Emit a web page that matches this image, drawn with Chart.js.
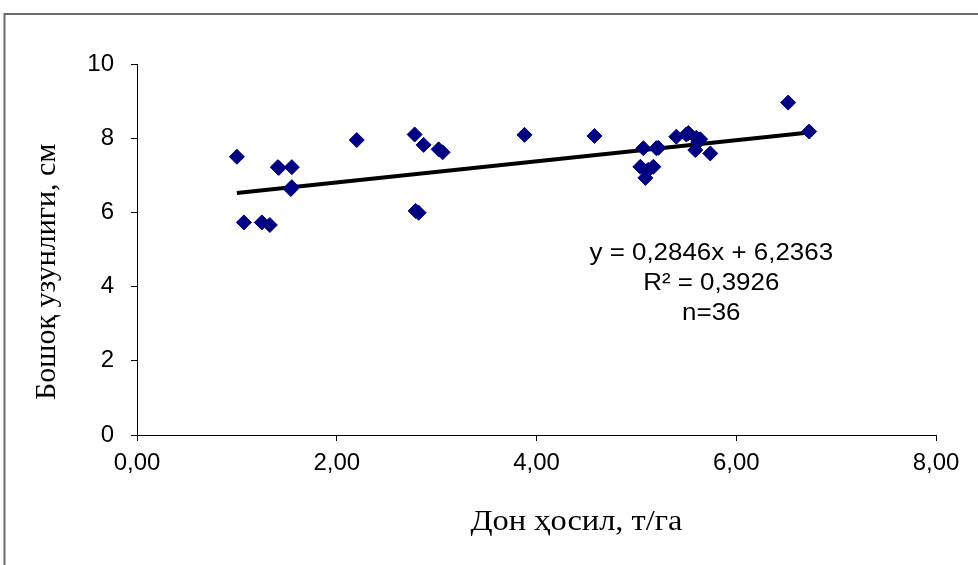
<!DOCTYPE html>
<html>
<head>
<meta charset="utf-8">
<script src="https://cdn.jsdelivr.net/npm/chart.js@4.4.1/dist/chart.umd.min.js"></script>
<style>
  html, body { margin: 0; padding: 0; background: #fff; }
  #wrap { position: relative; width: 978px; height: 565px; }
</style>
</head>
<body>
<div id="wrap"><canvas id="chart" width="978" height="565"></canvas></div>
<script>
// grain yield, t/ha
const yieldX = [1.00, 1.07, 1.25, 1.33, 1.41, 1.42, 1.55, 1.54, 1.55, 2.20,
  2.78, 2.79, 2.82, 2.87, 3.02, 3.06, 3.88, 4.58, 5.07, 5.20,
  5.04, 5.17, 5.11, 5.12, 5.09, 5.40, 5.52, 5.50, 5.60, 5.64,
  5.62, 5.59, 5.74, 6.52, 6.73, 5.22];
// spike length, cm
const spikeY = [7.50, 5.73, 5.73, 5.66, 7.22, 7.20, 7.22, 6.63, 6.68, 7.95,
  8.10, 6.04, 5.99, 7.82, 7.70, 7.62, 8.09, 8.06, 7.73, 7.73,
  7.23, 7.23, 7.12, 7.15, 6.93, 8.04, 8.14, 8.10, 8.01, 7.97,
  7.90, 7.68, 7.59, 8.96, 8.18, 7.74];

const slope = 0.2846;
const intercept = 6.2363;
const equationLines = ['y = 0,2846x + 6,2363', 'R² = 0,3926', 'n=36'];
const xTicks = [0, 2, 4, 6, 8];
const yTicks = [0, 2, 4, 6, 8, 10];
const xTitle = 'Дон ҳосил, т/га';
const yTitle = 'Бошоқ узунлиги, см';

const points = yieldX.map((x, i) => ({ x: x, y: spikeY[i] }));
const xMin = Math.min(...yieldX);
const xMax = Math.max(...yieldX);
const trend = [xMin, xMax].map(x => ({ x: x, y: slope * x + intercept }));

// text in the source picture is a bit wider than tall
const stretch = 1.08;

// frame, axis titles and the equation box
const extras = {
  id: 'extras',
  beforeDraw(chart) {
    const ctx = chart.ctx;
    ctx.save();
    ctx.fillStyle = '#fff';
    ctx.fillRect(0, 0, chart.width, chart.height);
    ctx.strokeStyle = '#6b6b6b';
    ctx.lineWidth = 2;
    ctx.beginPath();
    ctx.moveTo(4.5, chart.height + 5);
    ctx.lineTo(4.5, 14);
    ctx.lineTo(chart.width + 5, 14);
    ctx.stroke();
    ctx.restore();
  },
  afterDraw(chart) {
    const ctx = chart.ctx;
    const xs = chart.scales.x, ys = chart.scales.y;
    ctx.save();
    ctx.fillStyle = '#000';
    ctx.textAlign = 'center';
    ctx.textBaseline = 'middle';
    ctx.font = '30px "Liberation Serif", "Times New Roman", serif';
    ctx.save();
    ctx.translate(xs.getPixelForValue(4.4), 522);
    ctx.scale(stretch, 1);
    ctx.fillText(xTitle, 0, 0);
    ctx.restore();
    ctx.translate(47, ys.getPixelForValue(4.4));
    ctx.rotate(-Math.PI / 2);
    ctx.fillText(yTitle, 0, 0);
    ctx.restore();

    ctx.save();
    ctx.fillStyle = '#000';
    ctx.textAlign = 'center';
    ctx.textBaseline = 'middle';
    ctx.font = '24px "Liberation Sans", Arial, sans-serif';
    equationLines.forEach((t, i) => {
      ctx.save();
      ctx.translate(xs.getPixelForValue(5.75), ys.getPixelForValue(4.9) + i * 30);
      ctx.scale(stretch, 1);
      ctx.fillText(t, 0, 0);
      ctx.restore();
    });
    ctx.restore();
  }
};

new Chart(document.getElementById('chart'), {
  type: 'scatter',
  data: {
    datasets: [
      {
        label: 'trend',
        type: 'line',
        data: trend,
        borderColor: '#000',
        borderWidth: 4,
        pointRadius: 0,
        fill: false,
        order: 2
      },
      {
        label: 'data',
        data: points,
        pointStyle: 'rectRot',
        pointRadius: 7.5,
        pointHoverRadius: 7.5,
        backgroundColor: '#000080',
        borderColor: '#000080',
        borderWidth: 1,
        order: 1
      }
    ]
  },
  options: {
    responsive: false,
    animation: false,
    events: [],
    layout: { padding: { left: 0, right: 42, top: 64, bottom: 0 } },
    plugins: { legend: { display: false }, tooltip: { enabled: false } },
    scales: {
      x: {
        type: 'linear',
        min: 0,
        max: 8,
        afterFit: s => { s.height = 130; },
        afterBuildTicks: s => { s.ticks = xTicks.map(v => ({ value: v })); },
        grid: { drawOnChartArea: false, drawTicks: true, tickLength: 6, color: '#000' },
        border: { color: '#000', width: 1 },
        ticks: {
          color: '#000',
          padding: 8,
          font: { family: '"Liberation Sans", Arial, sans-serif', size: 24 },
          callback: v => v.toFixed(2).replace('.', ',')
        }
      },
      y: {
        type: 'linear',
        min: 0,
        max: 10,
        afterFit: s => { s.width = 137; },
        afterBuildTicks: s => { s.ticks = yTicks.map(v => ({ value: v })); },
        grid: { drawOnChartArea: false, drawTicks: true, tickLength: 6, color: '#000' },
        border: { color: '#000', width: 1 },
        ticks: {
          color: '#000',
          padding: 17,
          font: { family: '"Liberation Sans", Arial, sans-serif', size: 24 }
        }
      }
    }
  },
  plugins: [extras]
});
</script>
</body>
</html>
